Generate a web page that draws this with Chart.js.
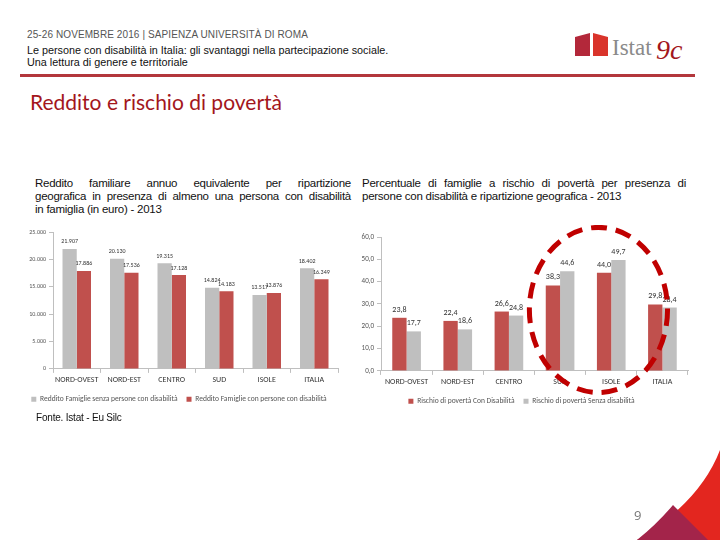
<!DOCTYPE html>
<html>
<head>
<meta charset="utf-8">
<script src="https://cdn.jsdelivr.net/npm/chart.js@4.4.1/dist/chart.umd.min.js"></script>
<style>
    body { margin: 0; width: 720px; height: 540px; background: #fff; position: relative; overflow: hidden; font-family: "Liberation Sans", Arial, sans-serif; }
    .abs { position: absolute; }
    #hdr1 { left: 27px; top: 29px; font-size: 10px; color: #555; letter-spacing: 0.1px; }
    #hdr2 { left: 27px; top: 44px; font-size: 10.8px; color: #111; line-height: 12px; }
    #rule { left: 20px; top: 74px; width: 675px; height: 3px; background: #b3373c; }
    #title { left: 30px; top: 89px; font-family: Lato, "Open Sans", sans-serif; font-size: 21px; color: #a3161c; }
    .ctitle { top: 177px; font-size: 11.5px; line-height: 13px; color: #111; letter-spacing: -0.25px; }
    .ctitle span { display: block; }
    .ctitle .j { text-align: justify; text-align-last: justify; }
    #t1 { left: 35px; width: 316px; }
    #t2 { left: 362px; width: 324px; }
    #fonte { left: 36px; top: 412px; font-size: 10px; color: #111; letter-spacing: -0.2px; }
    #c1 { left: 20px; top: 225px; width: 325px; height: 188px; }
    #c2 { left: 355px; top: 225px; width: 345px; height: 190px; }
    #logo { left: 575px; top: 33px; }
    #pnum { left: 634px; top: 506px; font-size: 13px; color: #777; font-family: "Open Sans", sans-serif; }
</style>
</head>
<body>
<div class="abs" id="hdr1">25-26 NOVEMBRE 2016 | SAPIENZA UNIVERSITÀ DI ROMA</div>
<div class="abs" id="hdr2">Le persone con disabilità in Italia: gli svantaggi nella partecipazione sociale.<br>Una lettura di genere e territoriale</div>
<svg class="abs" id="logo" width="120" height="36">
    <path d="M0,4 L15,0 L15,23 L0,23 Z" fill="#b3283a"/>
    <path d="M18,0 L33,4 L33,23 L18,23 Z" fill="#d9342b"/>
    <text x="37" y="22" font-family="Liberation Serif, serif" font-size="23" fill="#8a8a8a">Istat</text>
    <text x="81" y="26" font-family="Liberation Serif, serif" font-size="28" font-style="italic" fill="#a3161c">9c</text>
</svg>
<div class="abs" id="rule"></div>
<div class="abs" id="title">Reddito e rischio di povertà</div>
<div class="abs ctitle" id="t1"><span class="j">Reddito familiare annuo equivalente per ripartizione</span><span class="j">geografica in presenza di almeno una persona con disabilità</span><span>in famiglia (in euro) - 2013</span></div>
<div class="abs ctitle" id="t2"><span class="j">Percentuale di famiglie a rischio di povertà per presenza di</span><span>persone con disabilità e ripartizione geografica - 2013</span></div>
<div class="abs" id="c1"><canvas id="chart1"></canvas></div>
<div class="abs" id="c2"><canvas id="chart2"></canvas></div>
<div class="abs" id="fonte">Fonte. Istat - Eu Silc</div>
<svg class="abs" style="left:0;top:0" width="720" height="540">
    <path d="M720,450 Q700,502 637,540 L720,540 Z" fill="#e3261f"/>
    <path d="M673,505 L708,540 L637,540 Q657,524 673,505 Z" fill="#a3244a"/>
</svg>
<div class="abs" id="pnum">9</div>
<script>
const categories = ['NORD-OVEST', 'NORD-EST', 'CENTRO', 'SUD', 'ISOLE', 'ITALIA'];

// chart 1: reddito (euro)
const redditoSenza = [21907, 20130, 19315, 14824, 13517, 18402];
const redditoCon = [17886, 17536, 17128, 14183, 13876, 16349];
const redditoTicks = [0, 5000, 10000, 15000, 20000, 25000];

// chart 2: rischio di povertà (%)
const rischioCon = [23.8, 22.4, 26.6, 38.3, 44.0, 29.8];
const rischioSenza = [17.7, 18.6, 24.8, 44.6, 49.7, 28.4];
const rischioTicks = [0, 10, 20, 30, 40, 50, 60];

const GREY = '#bfbfbf';
const RED = '#c0504d';
const FONT = 'Carlito, "Open Sans", "Liberation Sans", sans-serif';

function thousands(v) {
    return String(v).replace(/\B(?=(\d{3})+(?!\d))/g, '.');
}
function comma(v) {
    return v.toFixed(1).replace('.', ',');
}

function valueLabels(format, size) {
    return {
        id: 'valueLabels',
        afterDatasetsDraw(chart) {
            const ctx = chart.ctx;
            ctx.save();
            ctx.font = size + 'px ' + FONT;
            ctx.fillStyle = '#333';
            ctx.textAlign = 'center';
            ctx.textBaseline = 'bottom';
            chart.data.datasets.forEach((ds, i) => {
                chart.getDatasetMeta(i).data.forEach((bar, j) => {
                    ctx.fillText(format(ds.data[j]), bar.x, bar.y - 4);
                });
            });
            ctx.restore();
        }
    };
}

const ellipse = {
    id: 'ellipse',
    afterDraw(chart) {
        const x = chart.scales.x, y = chart.scales.y;
        const cw = x.getPixelForValue(4) - x.getPixelForValue(3);
        const cx = (x.getPixelForValue(3) + x.getPixelForValue(4)) / 2 + 0.25 * cw;
        const cy = y.getPixelForValue(27.3);
        const ry = y.getPixelForValue(0) - y.getPixelForValue(37);
        const ctx = chart.ctx;
        ctx.save();
        ctx.beginPath();
        ctx.ellipse(cx, cy, 1.35 * cw, ry, 0, 0, Math.PI * 2);
        ctx.setLineDash([16, 9]);
        ctx.lineWidth = 5;
        ctx.strokeStyle = '#c00000';
        ctx.stroke();
        ctx.restore();
    }
};

function options(ticks, fmt, axisWidth, right, top) {
    return {
        responsive: true,
        maintainAspectRatio: false,
        animation: false,
        layout: { padding: { top: top, right: right, left: 0, bottom: 0 } },
        plugins: {
            legend: {
                position: 'bottom',
                labels: { font: { size: 7.5, family: FONT }, color: '#555', boxWidth: 5, boxHeight: 5, padding: 9 }
            },
            tooltip: { enabled: false }
        },
        scales: {
            x: {
                grid: { offset: true, drawOnChartArea: false, tickLength: 4, color: '#bfbfbf' },
                border: { color: '#bfbfbf' },
                ticks: { font: { size: 8, family: FONT }, color: '#333', maxRotation: 0, padding: 2 }
            },
            y: {
                min: ticks[0],
                max: ticks[ticks.length - 1],
                afterBuildTicks(s) { s.ticks = ticks.map(v => ({ value: v })); },
                afterFit(s) { s.width = axisWidth; },
                grid: { drawOnChartArea: false, tickLength: 4, color: '#bfbfbf' },
                border: { color: '#bfbfbf' },
                ticks: { font: { size: 6, family: FONT }, color: '#555', padding: 3, callback: v => fmt(v) }
            }
        }
    };
}

new Chart(document.getElementById('chart1'), {
    type: 'bar',
    data: {
        labels: categories,
        datasets: [
            { label: 'Reddito Famiglie senza persone con disabilità', data: redditoSenza, backgroundColor: GREY, categoryPercentage: 0.6, barPercentage: 1.0 },
            { label: 'Reddito Famiglie con persone con disabilità', data: redditoCon, backgroundColor: RED, categoryPercentage: 0.6, barPercentage: 1.0 }
        ]
    },
    options: options(redditoTicks, thousands, 33, 7, 7),
    plugins: [valueLabels(thousands, 6)]
});

new Chart(document.getElementById('chart2'), {
    type: 'bar',
    data: {
        labels: categories,
        datasets: [
            { label: 'Rischio di povertà Con Disabilità', data: rischioCon, backgroundColor: RED, categoryPercentage: 0.56, barPercentage: 1.0 },
            { label: 'Rischio di povertà Senza disabilità', data: rischioSenza, backgroundColor: GREY, categoryPercentage: 0.56, barPercentage: 1.0 }
        ]
    },
    options: (() => {
        const o = options(rischioTicks, comma, 26, 12, 12);
        o.scales.y.ticks.font.size = 7;
        return o;
    })(),
    plugins: [valueLabels(comma, 8), ellipse]
});
</script>
</body>
</html>
